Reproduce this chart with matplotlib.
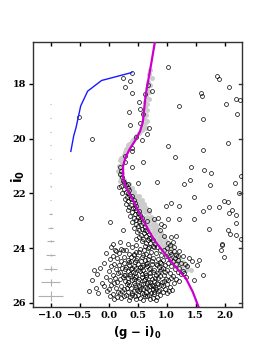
import numpy as np
import matplotlib
matplotlib.use('Agg')
import matplotlib.pyplot as plt

# fiducial (magenta) and blue sequence
fid_x = [0.80, 0.74, 0.69, 0.64, 0.61, 0.59, 0.54, 0.45, 0.36, 0.29, 0.25, 0.25, 0.28,
         0.34, 0.42, 0.50, 0.60, 0.70, 0.80, 0.93, 1.06, 1.20, 1.33, 1.45, 1.55]
fid_y = [16.45, 17.2, 17.8, 18.4, 19.0, 19.4, 19.75, 20.1, 20.4, 20.7, 21.0, 21.4, 21.7,
         21.95, 22.25, 22.6, 23.0, 23.4, 23.75, 24.1, 24.45, 24.8, 25.1, 25.6, 26.15]
blue_x = [-0.65, -0.60, -0.56, -0.48, -0.36, -0.12, 0.40]
blue_y = [20.47, 19.9, 19.6, 18.81, 18.27, 17.88, 17.59]

# photometric errors at g-i = -1.0
err_y = [18.75, 19.25, 19.75, 20.25, 20.75, 21.25, 21.75, 22.25, 22.75, 23.25,
         23.75, 24.25, 24.75, 25.25, 25.75]
err_x = [0.005, 0.005, 0.005, 0.005, 0.006, 0.007, 0.01, 0.015, 0.023, 0.035,
         0.055, 0.072, 0.11, 0.16, 0.215]
err_yy = [0.005, 0.005, 0.005, 0.005, 0.005, 0.006, 0.008, 0.01, 0.015, 0.025,
          0.035, 0.05, 0.08, 0.12, 0.17]

# sparse field / bright stars
field = [
    (1.03, 17.39), (1.86, 17.72), (1.91, 17.82), (2.07, 18.12), (1.59, 18.33), (1.61, 18.45),
    (1.22, 18.81), (2.02, 18.75), (2.19, 18.55), (2.26, 18.60), (2.22, 19.11), (1.62, 19.27),
    (2.05, 20.15), (1.02, 20.29), (1.63, 20.42), (1.14, 20.69), (1.42, 21.04), (1.65, 21.15),
    (1.76, 21.27), (1.41, 21.52), (1.30, 21.67), (1.75, 21.69), (2.17, 21.64), (0.84, 21.60),
    (2.28, 21.38), (0.41, 17.62), (0.25, 17.79), (0.37, 17.89), (0.29, 18.12), (0.41, 18.35),
    (0.68, 18.04), (0.75, 18.27), (0.53, 18.65), (0.54, 18.92), (0.35, 19.03), (0.63, 18.39),
    (0.59, 19.09), (-0.51, 19.21), (-0.28, 20.02), (0.54, 19.42), (0.70, 19.60), (0.37, 19.51),
    (0.66, 19.84), (0.48, 19.96), (0.57, 20.06), (0.41, 20.35), (0.41, 20.47), (0.28, 20.65),
    (0.28, 20.87), (0.59, 20.85), (0.41, 21.05), (0.19, 21.05), (0.22, 21.17), (0.19, 21.29),
    (0.23, 21.42), (0.25, 21.54), (0.34, 21.66), (0.50, 21.64), (0.18, 21.76),
    (2.25, 22.00), (1.48, 22.15), (0.99, 22.47), (1.07, 22.36), (1.22, 22.48), (1.63, 22.63),
    (1.73, 22.51), (1.90, 22.51), (1.99, 22.27), (2.05, 22.33), (2.12, 22.60), (2.07, 22.73),
    (2.19, 22.81), (1.21, 22.93), (1.48, 22.93), (1.03, 22.93), (0.85, 22.91), (0.95, 23.20),
    (1.73, 23.32), (2.06, 23.33), (2.19, 23.09), (2.09, 23.48), (2.19, 23.54), (2.28, 23.66),
    (1.07, 23.60), (1.16, 23.57), (1.02, 23.82), (1.11, 23.79), (1.95, 23.84), (1.96, 23.90),
    (1.93, 24.08), (1.99, 24.33), (1.63, 24.99), (1.47, 25.17), (1.52, 24.63), (1.55, 24.45),
    (1.43, 24.47), (-0.48, 22.91), (0.02, 23.05), (0.25, 23.33), (0.08, 23.84), (0.34, 23.84),
    (0.48, 23.66), (0.25, 24.08), (-0.34, 25.57), (-0.25, 24.81), (-0.05, 24.18), (0.11, 24.08),
    (0.19, 23.78),
]

# red giant branch members
rgb = [
    (0.26, 21.60), (0.30, 21.70), (0.22, 21.75), (0.33, 21.80), (0.27, 21.85), (0.36, 21.88),
    (0.30, 21.95), (0.24, 22.00), (0.35, 22.05), (0.40, 22.10), (0.31, 22.12), (0.28, 22.20),
    (0.38, 22.22), (0.43, 22.25), (0.34, 22.30), (0.45, 22.35), (0.30, 22.38), (0.39, 22.42),
    (0.48, 22.45), (0.36, 22.50), (0.42, 22.55), (0.33, 22.60), (0.47, 22.62), (0.52, 22.65),
    (0.40, 22.70), (0.45, 22.75), (0.55, 22.78), (0.37, 22.82), (0.50, 22.85), (0.43, 22.90),
    (0.58, 22.92), (0.48, 22.97), (0.53, 23.02), (0.41, 23.05), (0.60, 23.08), (0.47, 23.12),
    (0.56, 23.15), (0.51, 23.20), (0.63, 23.22), (0.44, 23.25), (0.58, 23.30), (0.53, 23.35),
    (0.66, 23.38), (0.49, 23.42), (0.61, 23.45), (0.70, 23.48), (0.56, 23.52), (0.65, 23.56),
    (0.52, 23.60), (0.73, 23.62), (0.60, 23.66), (0.68, 23.70), (0.77, 23.72), (0.57, 23.76),
    (0.64, 23.80), (0.72, 23.83), (0.80, 23.86), (0.48, 23.88), (0.62, 23.92), (0.70, 23.95),
    (0.84, 23.97), (0.70, 22.60), (0.78, 22.95), (0.88, 23.35), (0.95, 23.55), (1.05, 23.90),
    (1.12, 24.10), (1.20, 24.30), (1.25, 24.55), (1.35, 24.65), (1.38, 24.35), (1.30, 24.90),
    (0.90, 23.11), (0.66, 23.00), (0.38, 22.16), (0.46, 22.52), (0.55, 22.95), (0.62, 23.33),
    (0.69, 23.64), (0.76, 23.92), (0.33, 21.98), (0.51, 22.72),
]

# faint main-sequence turnoff clump
clump = [
    (0.05, 23.98), (0.22, 24.03), (0.41, 23.96), (0.55, 24.05), (0.68, 24.00), (0.79, 23.95),
    (0.88, 24.06), (1.00, 24.01), (1.12, 23.97), (0.12, 24.12), (0.30, 24.07), (0.47, 24.13),
    (0.61, 24.08), (0.73, 24.14), (0.95, 24.07), (1.05, 24.15), (1.22, 24.10), (0.18, 24.19),
    (0.36, 24.22), (0.52, 24.16), (0.64, 24.23), (0.82, 24.18), (0.91, 24.24), (1.08, 24.20),
    (1.17, 24.25), (0.08, 24.28), (0.27, 24.31), (0.43, 24.26), (0.58, 24.33), (0.70, 24.29),
    (0.77, 24.35), (0.99, 24.30), (1.14, 24.36), (1.28, 24.28), (0.02, 24.40), (0.15, 24.36),
    (0.33, 24.42), (0.49, 24.38), (0.62, 24.43), (0.85, 24.40), (0.94, 24.45), (1.06, 24.39),
    (1.20, 24.44), (0.21, 24.49), (0.39, 24.46), (0.45, 24.52), (0.56, 24.47), (0.67, 24.53),
    (0.74, 24.49), (0.89, 24.51), (1.03, 24.55), (1.11, 24.48), (-0.08, 24.55), (0.10, 24.58),
    (0.26, 24.55), (0.35, 24.61), (0.51, 24.57), (0.60, 24.62), (0.81, 24.59), (0.97, 24.63),
    (1.17, 24.60), (1.31, 24.57), (0.05, 24.66), (0.18, 24.63), (0.30, 24.68), (0.44, 24.65),
    (0.54, 24.70), (0.66, 24.66), (0.72, 24.72), (0.87, 24.69), (0.93, 24.74), (1.08, 24.67),
    (1.22, 24.72), (-0.15, 24.73), (0.13, 24.76), (0.24, 24.72), (0.38, 24.78), (0.48, 24.74),
    (0.59, 24.80), (0.69, 24.76), (0.79, 24.81), (0.91, 24.77), (1.01, 24.82), (1.14, 24.78),
    (1.28, 24.83), (0.00, 24.84), (0.20, 24.87), (0.33, 24.83), (0.42, 24.89), (0.55, 24.85),
    (0.63, 24.91), (0.76, 24.86), (0.85, 24.92), (0.98, 24.88), (1.05, 24.93), (1.19, 24.89),
    (-0.20, 24.94), (0.07, 24.97), (0.16, 24.93), (0.29, 24.99), (0.37, 24.95), (0.47, 25.01),
    (0.58, 24.96), (0.71, 25.02), (0.81, 24.98), (0.89, 25.03), (0.95, 24.97), (1.11, 25.01),
    (1.24, 24.96), (-0.05, 25.05), (0.11, 25.08), (0.25, 25.04), (0.34, 25.10), (0.45, 25.06),
    (0.52, 25.12), (0.64, 25.07), (0.74, 25.13), (0.86, 25.09), (0.99, 25.14), (1.07, 25.08),
    (1.16, 25.12), (1.33, 25.06), (-0.28, 25.15), (0.03, 25.18), (0.19, 25.14), (0.28, 25.20),
    (0.40, 25.16), (0.50, 25.22), (0.61, 25.17), (0.68, 25.23), (0.78, 25.19), (0.92, 25.24),
    (1.03, 25.18), (1.21, 25.22), (-0.12, 25.26), (0.09, 25.29), (0.14, 25.25), (0.31, 25.31),
    (0.43, 25.27), (0.56, 25.33), (0.66, 25.28), (0.75, 25.34), (0.83, 25.29), (0.90, 25.35),
    (1.00, 25.30), (1.13, 25.26), (-0.08, 25.37), (0.05, 25.34), (0.22, 25.40), (0.36, 25.36),
    (0.47, 25.42), (0.53, 25.38), (0.62, 25.43), (0.72, 25.37), (0.80, 25.44), (0.94, 25.39),
    (1.06, 25.41), (-0.22, 25.46), (0.00, 25.49), (0.12, 25.45), (0.27, 25.51), (0.39, 25.47),
    (0.49, 25.53), (0.59, 25.48), (0.69, 25.54), (0.77, 25.50), (0.87, 25.55), (0.97, 25.49),
    (1.10, 25.52), (-0.03, 25.57), (0.16, 25.60), (0.24, 25.56), (0.33, 25.62), (0.44, 25.58),
    (0.57, 25.63), (0.64, 25.59), (0.73, 25.64), (0.85, 25.58), (0.93, 25.62), (1.04, 25.57),
    (-0.18, 25.65), (0.07, 25.68), (0.19, 25.64), (0.30, 25.70), (0.41, 25.66), (0.51, 25.71),
    (0.61, 25.67), (0.70, 25.72), (0.79, 25.68), (0.89, 25.73), (1.01, 25.66), (0.02, 25.76),
    (0.14, 25.79), (0.26, 25.74), (0.37, 25.80), (0.46, 25.76), (0.55, 25.82), (0.66, 25.77),
    (0.76, 25.83), (0.84, 25.78), (0.10, 25.86), (0.22, 25.83), (0.35, 25.88), (0.48, 25.85),
    (0.59, 25.89), (0.71, 25.86), (0.81, 25.88), (0.38, 24.33), (0.65, 24.58), (0.46, 24.90),
    (0.72, 25.25), (0.31, 25.45), (0.57, 25.05), (0.83, 24.62), (0.26, 24.97), (0.52, 25.57),
    (0.76, 25.40), (0.41, 24.72), (0.95, 25.20), (0.63, 25.75), (0.35, 24.50), (0.68, 24.41),
    (0.44, 24.20), (0.59, 24.27), (0.75, 24.57), (0.50, 24.82), (0.88, 24.84), (0.37, 25.03),
    (0.62, 25.12), (0.80, 25.08), (0.45, 25.35), (0.67, 25.47), (0.86, 25.33), (0.40, 25.73),
    (0.58, 24.68), (0.71, 24.93), (0.33, 25.25), (0.91, 24.55), (0.54, 25.48), (0.78, 25.60),
    (0.48, 24.44), (0.64, 24.99), (0.29, 24.78), (0.82, 25.50), (0.60, 25.32), (0.43, 25.13),
]

# grey comparison sequence
grey = [
    (0.72, 17.50), (0.70, 17.65), (0.74, 17.80), (0.68, 17.95), (0.72, 18.05), (0.66, 18.15),
    (0.70, 18.30), (0.65, 18.45), (0.69, 18.55), (0.63, 18.65), (0.67, 18.75), (0.62, 18.85),
    (0.66, 18.95), (0.60, 19.05), (0.65, 19.15), (0.61, 19.25), (0.66, 19.35), (0.62, 19.45),
    (0.59, 19.55), (0.64, 19.60), (0.57, 19.70), (0.52, 19.80), (0.47, 19.90), (0.44, 20.00),
    (0.40, 20.10), (0.36, 20.20), (0.33, 20.30), (0.30, 20.40), (0.28, 20.50), (0.34, 20.25),
    (0.42, 20.05), (0.26, 20.60), (0.22, 20.70), (0.20, 20.80), (0.24, 20.90), (0.18, 21.00),
    (0.21, 21.10), (0.17, 21.20), (0.24, 21.25), (0.19, 21.35), (0.22, 21.45), (0.27, 21.50),
    (0.20, 21.55),
]
grey_rows = [
    (21.65, [0.30, 0.36]), (21.80, [0.32, 0.40]), (21.95, [0.37, 0.44]),
    (22.10, [0.40, 0.47, 0.53]), (22.25, [0.44, 0.51, 0.57]), (22.40, [0.48, 0.55, 0.61]),
    (22.55, [0.52, 0.58, 0.65]), (22.70, [0.55, 0.62, 0.69]), (22.85, [0.59, 0.66, 0.73]),
    (23.00, [0.63, 0.70, 0.78]), (23.15, [0.66, 0.74, 0.82]), (23.30, [0.70, 0.78, 0.86]),
    (23.45, [0.74, 0.82, 0.90]), (23.60, [0.79, 0.87, 0.95]), (23.75, [0.83, 0.91, 0.99]),
    (23.90, [0.88, 0.96, 1.05]), (24.05, [0.94, 1.02, 1.10]), (24.20, [0.99, 1.07, 1.16]),
    (24.35, [1.05, 1.13, 1.22]), (24.50, [1.11, 1.19, 1.28]), (24.65, [1.18, 1.26, 1.35]),
    (24.80, [1.25, 1.33, 1.42]),
]

xticks = [-1.0, -0.5, 0.0, 0.5, 1.0, 1.5, 2.0]
yticks = [18, 20, 22, 24, 26]

gx = [p[0] for p in grey] + [x for y, xs in grey_rows for x in xs]
gy = [p[1] for p in grey] + [y for y, xs in grey_rows for x in xs]
black = field + rgb + clump
bx = [p[0] for p in black]
by = [p[1] for p in black]

fig = plt.figure(figsize=(2.69, 3.46), dpi=100)
ax = fig.add_axes([0.123, 0.113, 0.777, 0.766])

ax.errorbar([-1.0] * len(err_y), err_y, xerr=err_x, yerr=err_yy, fmt='none',
            ecolor='#b0b0b0', elinewidth=0.8, capsize=0)
ax.plot(gx, gy, 'o', ms=3.6, mfc='#cccccc', mec='none', zorder=2)
ax.plot(bx, by, 'o', ms=2.8, mfc='none', mec='black', mew=0.5, zorder=3)
ax.plot(blue_x, blue_y, '-', color='#1a1aff', lw=1.0, zorder=4)
ax.plot(fid_x, fid_y, '-', color='#cc00cc', lw=1.6, zorder=5)

ax.set_xlim(-1.3, 2.3)
ax.set_ylim(26.15, 16.47)
ax.set_xticks(xticks)
ax.set_xticklabels([f'{t:.1f}'.replace('-', '\u2212') for t in xticks],
                   family='DejaVu Serif', fontweight='bold', fontsize=7)
ax.set_yticks(yticks)
ax.set_yticklabels([str(t) for t in yticks], family='DejaVu Serif',
                   fontweight='bold', fontsize=7)
ax.tick_params(axis='x', direction='in', top=True, length=3, width=1, pad=3)
ax.tick_params(axis='y', direction='out', right=False, length=3, width=1, pad=2)
for yt in yticks:
    ax.plot([2.3, 2.25], [yt, yt], color='#333333', lw=1, clip_on=False, zorder=6)
for s in ax.spines.values():
    s.set_color('#333333')
    s.set_linewidth(1.0)

ax.set_xlabel('(g \u2212 i)$_\\mathbf{0}$', fontsize=8.5, fontweight='bold', labelpad=3)
fig.text(18 / 269, 1 - 176 / 346, 'i$_\\mathbf{0}$', fontsize=10, fontweight='bold',
         rotation=90, ha='center', va='center')

fig.savefig('out.png', dpi=100)
